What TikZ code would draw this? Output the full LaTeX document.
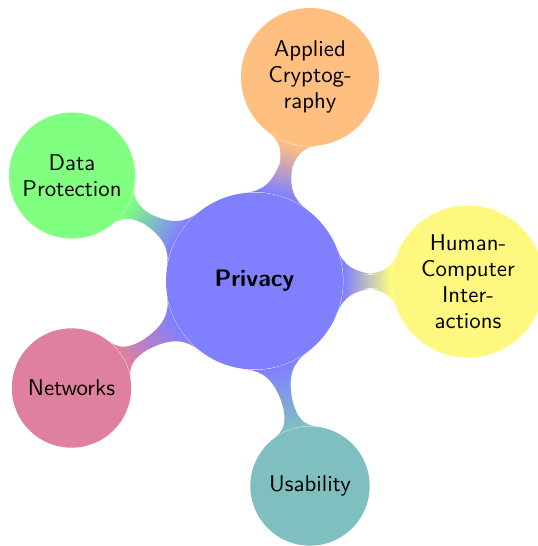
\documentclass[tikz,border=0pt]{standalone}
\usetikzlibrary{mindmap,backgrounds}
\begin{document}
\begin{tikzpicture}[x=0.465pt,y=-0.465pt]
\tikzset{
  hub/.style={circle, fill=blue!50, inner sep=0pt, minimum size=82.3pt, font=\sffamily\bfseries\fontsize{11.1pt}{13pt}\selectfont},
  topic/.style={circle, inner sep=0pt, text width=50pt, align=center, font=\sffamily\fontsize{10.6pt}{12pt}\selectfont},
  link/.style={line width=7pt}
}
\useasboundingbox (0,0) rectangle (538,546);
\node[hub] (root) at (254.5,281) {Privacy};
\node[topic, fill=orange!50, minimum size=64.2pt] (ac) at (310,77) {Applied\\Cryptog-\\raphy};
\node[topic, fill=yellow!50, minimum size=70.7pt] (hci) at (468,281.5) {Human-\\Computer\\Inter-\\actions};
\node[topic, fill=teal!50, minimum size=55.5pt] (us) at (310,486) {Usability};
\node[topic, fill=purple!50, minimum size=55.5pt] (net) at (71.5,388) {Networks};
\node[topic, fill=green!50, minimum size=58.6pt] (dp) at (72,175.5) {Data\\Protection};
\begin{scope}[on background layer]
\path[link] (root) to[circle connection bar switch color=from (blue!50) to (orange!50)] (ac);
\path[link] (root) to[circle connection bar switch color=from (blue!50) to (yellow!50)] (hci);
\path[link] (root) to[circle connection bar switch color=from (blue!50) to (teal!50)] (us);
\path[link] (root) to[circle connection bar switch color=from (blue!50) to (purple!50)] (net);
\path[link] (root) to[circle connection bar switch color=from (blue!50) to (green!50)] (dp);
\end{scope}
\end{tikzpicture}
\end{document}
